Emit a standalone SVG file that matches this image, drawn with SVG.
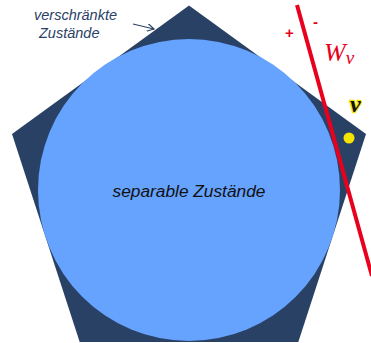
<svg xmlns="http://www.w3.org/2000/svg" width="371" height="343" viewBox="0 0 371 343">
<style>
.lbl{font-family:"Liberation Sans",Arial,sans-serif;font-style:italic;}
.red{fill:#e8001c;}
</style>
<defs>
<marker id="ah" markerWidth="8" markerHeight="8" refX="7" refY="4" orient="auto" markerUnits="userSpaceOnUse">
<path d="M0,0 L7,4 L0,8" fill="none" stroke="#2a4166" stroke-width="1.2"/>
</marker>
</defs>
<rect width="371" height="343" fill="#fff"/>
<g id="entangled">
<polygon points="189,5.5 366,134 298.3,342 79.7,342 12,134" fill="#2a4166"/>
</g>
<g id="separable">
<circle cx="189" cy="190" r="151" fill="#66a3ff"/>
<text class="lbl" x="189" y="197" text-anchor="middle" font-size="17.3" fill="#111">separable Zustände</text>
</g>
<g id="label-entangled">
<text class="lbl" x="34" y="20" font-size="14.5" fill="#2a4166">verschränkte</text>
<text class="lbl" x="39" y="38" font-size="14.5" fill="#2a4166">Zustände</text>
</g>
<g id="witness">
<line x1="297" y1="5" x2="372" y2="276" stroke="#e8001c" stroke-width="4"/>
<text x="285" y="38" font-family="Liberation Sans,Arial,sans-serif" font-weight="bold" font-size="15" class="red">+</text>
<text x="313" y="27" font-family="Liberation Sans,Arial,sans-serif" font-weight="bold" font-size="15" class="red">-</text>
<text x="324" y="61" font-family="Liberation Serif,Times New Roman,serif" font-style="italic" font-size="26" class="red">W<tspan font-size="19" dy="3">v</tspan></text>
</g>
<g id="state">
<circle cx="349" cy="138" r="5.5" fill="#f5e400"/>
<text x="350" y="112" font-family="Liberation Serif,Times New Roman,serif" font-style="italic" font-weight="bold" font-size="24" fill="#111" stroke="#f5e400" stroke-width="2.5" paint-order="stroke">ν</text>
</g>
<g id="connectors">
<line x1="133" y1="24" x2="154" y2="29" stroke="#2a4166" stroke-width="1.2" marker-end="url(#ah)"/>
</g>
</svg>
